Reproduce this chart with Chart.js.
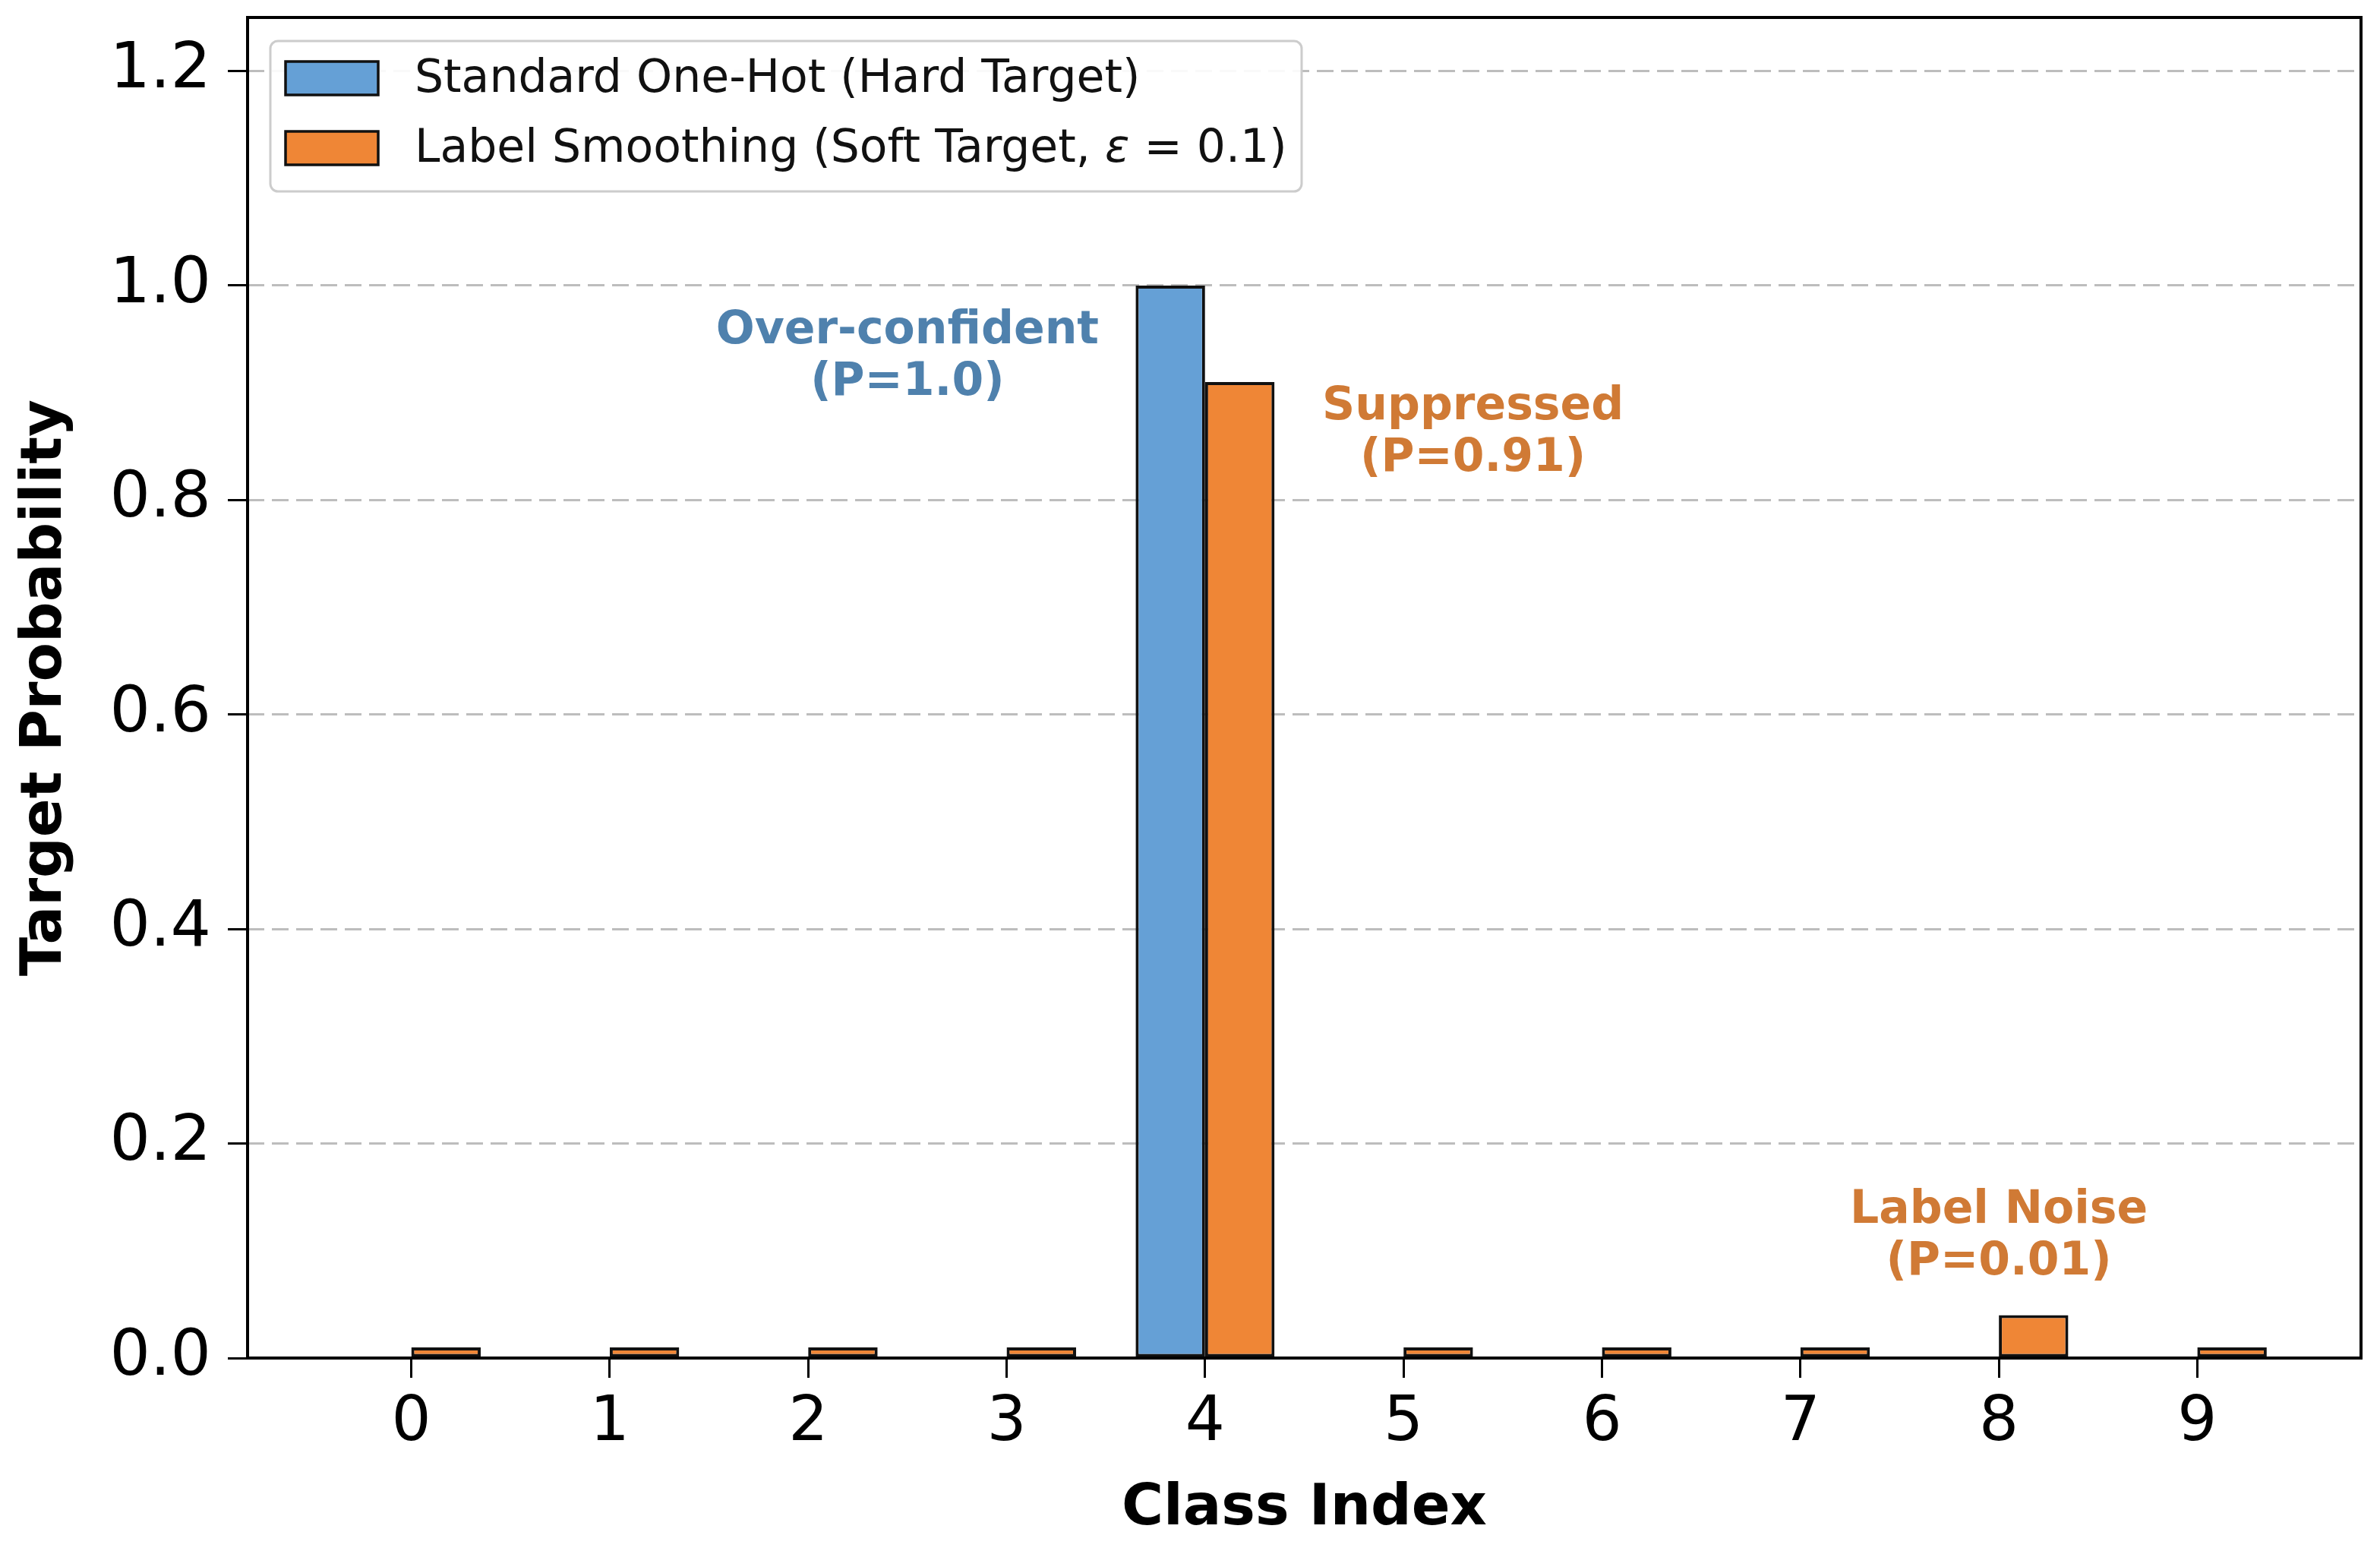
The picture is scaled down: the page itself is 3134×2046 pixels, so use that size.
<!DOCTYPE html>
<html><head><meta charset="utf-8">
<script src="https://cdn.jsdelivr.net/npm/chart.js@4.4.1/dist/chart.umd.min.js"></script>
<style>html,body{margin:0;padding:0;background:#fff;}#wrap{width:3134px;height:2046px;}</style>
</head><body><div id="wrap"><canvas id="c" width="3134" height="2046"></canvas></div>
<script>
// ---- data ----
const classIndex = [0, 1, 2, 3, 4, 5, 6, 7, 8, 9];
const hardTarget = [0, 0, 0, 0, 1.0, 0, 0, 0, 0, 0];
const softTarget = [0.01, 0.01, 0.01, 0.01, 0.91, 0.01, 0.01, 0.01, 0.04, 0.01];
const yTickValues = [0, 0.2, 0.4, 0.6, 0.8, 1.0, 1.2];
const seriesLabels = ['Standard One-Hot (Hard Target)', 'Label Smoothing (Soft Target, \u03b5 = 0.1)'];
const xAxisTitle = 'Class Index';
const yAxisTitle = 'Target Probability';
const noteLines = [['Over-confident', '(P=1.0)'], ['Suppressed', '(P=0.91)'], ['Label Noise', '(P=0.01)']];

// ---- styles / positions ----
const BLUE = '#65a0d6', ORANGE = '#ef8636';
const noteStyle = [
  {x: 2.5, y: 0.933, color: '#4f81ad'},
  {x: 5.35, y: 0.862, color: '#d07a35'},
  {x: 8.0, y: 0.113, color: '#d07a35'}
];

Chart.defaults.font.family = '"DejaVu Sans", sans-serif';
Chart.defaults.color = '#000';

function drawLegendText(ctx, text, x, y) {
  const parts = text.split('\u03b5');
  let cx = x;
  parts.forEach((p, i) => {
    ctx.font = '60px "DejaVu Sans"';
    ctx.fillText(p, cx, y);
    cx += ctx.measureText(p).width;
    if (i < parts.length - 1) {
      ctx.font = 'italic 60px "DejaVu Sans"';
      ctx.fillText('\u03b5', cx, y);
      cx += ctx.measureText('\u03b5').width;
    }
  });
}

const overlay = {
  id: 'overlay',
  afterDatasetsDraw(chart) {
    const {ctx, chartArea: a, scales: {x, y}} = chart;
    ctx.save();
    // frame
    ctx.strokeStyle = '#000';
    ctx.lineWidth = 4;
    ctx.strokeRect(a.left, a.top, a.right - a.left, a.bottom - a.top);
    // annotations
    ctx.font = 'bold 60px "DejaVu Sans"';
    ctx.textAlign = 'center';
    ctx.textBaseline = 'middle';
    noteStyle.forEach((n, i) => {
      const px = x.getPixelForValue(n.x), py = y.getPixelForValue(n.y);
      const lines = noteLines[i];
      ctx.fillStyle = n.color;
      lines.forEach((t, k) => ctx.fillText(t, px, py + (k - (lines.length - 1) / 2) * 68));
    });
    // legend
    const L = {x: 356, y: 54, w: 1358, h: 198};
    ctx.beginPath();
    ctx.roundRect(L.x, L.y, L.w, L.h, 10);
    ctx.fillStyle = 'rgba(255,255,255,0.9)';
    ctx.fill();
    ctx.strokeStyle = '#cccccc';
    ctx.lineWidth = 3;
    ctx.stroke();
    ctx.textAlign = 'left';
    chart.data.datasets.forEach((ds, i) => {
      const cy = 103 + i * 92;
      ctx.fillStyle = ds.backgroundColor;
      ctx.fillRect(376, cy - 22, 122, 44);
      ctx.strokeStyle = '#111';
      ctx.lineWidth = 3.5;
      ctx.strokeRect(376, cy - 22, 122, 44);
      ctx.fillStyle = '#111';
      drawLegendText(ctx, ds.label, 546, cy + 2);
    });
    ctx.restore();
  }
};

new Chart(document.getElementById('c'), {
  type: 'bar',
  data: {
    datasets: [
      {label: seriesLabels[0], data: classIndex.map((c, i) => ({x: c, y: hardTarget[i]})),
       backgroundColor: BLUE, borderColor: '#111', borderWidth: 4, borderSkipped: false},
      {label: seriesLabels[1], data: classIndex.map((c, i) => ({x: c, y: softTarget[i]})),
       backgroundColor: ORANGE, borderColor: '#111', borderWidth: 4, borderSkipped: false}
    ]
  },
  options: {
    responsive: false,
    devicePixelRatio: 1,
    animation: false,
    categoryPercentage: 0.7,
    barPercentage: 1.0,
    layout: {padding: {top: 23, right: 25, left: 0, bottom: 0}},
    plugins: {legend: {display: false}, tooltip: {enabled: false}},
    scales: {
      x: {
        type: 'linear', min: -0.825, max: 9.825, offset: false,
        afterBuildTicks: s => { s.ticks = classIndex.map(v => ({value: v})); },
        afterFit: s => { s.height = 258; s.paddingLeft = 0; s.paddingRight = 0; },
        ticks: {font: {size: 82}, color: '#000', padding: 12, callback: v => String(v), maxRotation: 0, autoSkip: false},
        grid: {offset: false, drawOnChartArea: false, drawTicks: true, tickLength: 26, tickColor: '#000', tickWidth: 3},
        border: {display: false},
        title: {display: true, text: xAxisTitle, font: {size: 75, weight: 'bold'}, color: '#000', padding: {top: 0, bottom: 13}}
      },
      y: {
        min: 0, max: 1.25,
        afterBuildTicks: s => { s.ticks = yTickValues.map(v => ({value: v})); },
        afterFit: s => { s.width = 326; s.paddingTop = 0; s.paddingBottom = 0; },
        ticks: {font: {size: 84}, color: '#000', padding: 22, callback: v => Number(v).toFixed(1)},
        grid: {color: '#bdbdbd', lineWidth: 3, drawTicks: true, tickLength: 26, tickColor: '#000', tickWidth: 3},
        border: {display: false, dash: [22, 10]},
        title: {display: true, text: yAxisTitle, font: {size: 75, weight: 'bold'}, color: '#000', padding: {top: 16, bottom: 0}}
      }
    }
  },
  plugins: [overlay]
});
</script>
</body></html>
